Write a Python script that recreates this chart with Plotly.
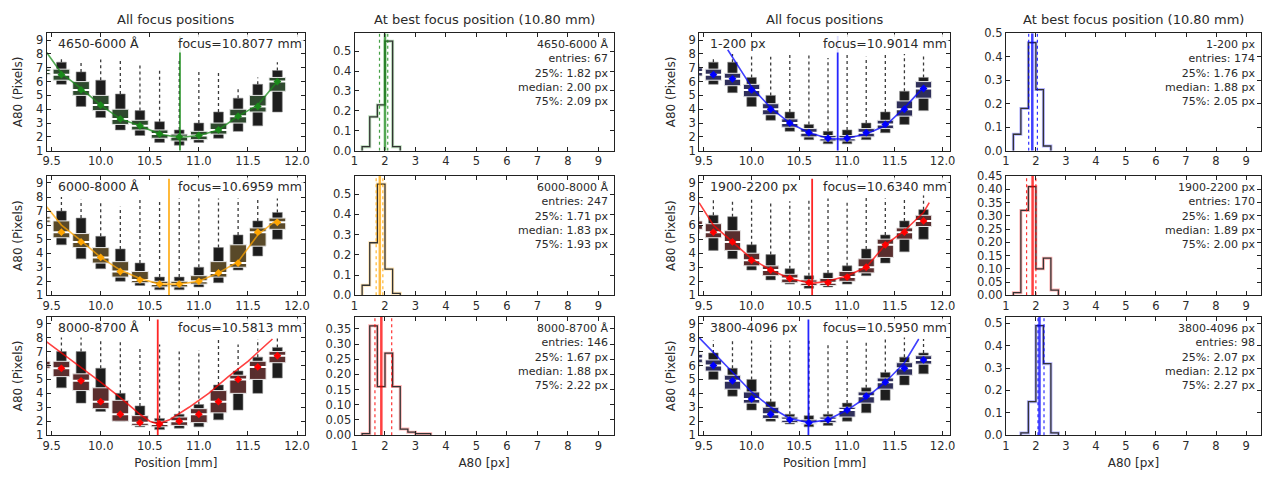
import plotly.graph_objects as go
from plotly.subplots import make_subplots

# ---------------- data ----------------
positions = [9.4, 9.6, 9.8, 10.0, 10.2, 10.4, 10.6, 10.8, 11.0, 11.2, 11.4, 11.6, 11.8]

# Panel A: 4650-6000 Å (green)
A_label, A_focus = "4650-6000 Å", 10.8077
A_lo  = [6.3, 5.8, 4.2, 3.4, 2.5, 2.1, 1.6, 1.4, 1.6, 1.9, 2.4, 2.8, 3.8]
A_q1  = [6.5, 6.1, 5.0, 3.9, 2.9, 2.5, 1.9, 1.7, 1.8, 2.2, 3.0, 3.8, 5.3]
A_med = [6.7, 6.5, 5.4, 4.3, 3.3, 2.8, 2.2, 2.0, 2.1, 2.5, 3.5, 4.2, 6.0]
A_q3  = [6.9, 6.9, 6.0, 5.0, 4.0, 3.2, 2.5, 2.2, 2.4, 3.0, 4.0, 5.0, 6.3]
A_hi  = [7.2, 7.4, 6.7, 6.1, 5.1, 3.9, 3.1, 2.5, 3.0, 3.8, 4.8, 5.8, 6.8]
A_top = [7.2, 7.8, 7.5, 7.6, 7.6, 7.2, 7.0, 7.5, 6.7, 6.8, 5.5, 6.3, 7.4]
A_fit_x = [9.45, 9.6, 9.8, 10.0, 10.2, 10.4, 10.6, 10.8, 11.0, 11.2, 11.4, 11.6, 11.8]
A_fit_y = [8.1, 6.6, 5.5, 4.3, 3.3, 2.8, 2.2, 1.95, 2.1, 2.5, 3.5, 4.3, 6.0]

# Panel B: 6000-8000 Å (orange)
B_label, B_focus = "6000-8000 Å", 10.6959
B_lo  = [6.0, 4.6, 3.6, 2.9, 2.0, 1.7, 1.4, 1.4, 1.6, 1.9, 2.8, 3.8, 5.0]
B_q1  = [6.2, 5.1, 4.4, 3.3, 2.3, 1.9, 1.6, 1.6, 1.8, 2.3, 3.0, 4.5, 5.7]
B_med = [6.4, 5.5, 4.8, 3.7, 2.7, 2.1, 1.8, 1.8, 2.0, 2.6, 3.3, 5.5, 6.2]
B_q3  = [6.6, 6.3, 5.4, 4.4, 3.4, 2.7, 2.0, 2.0, 2.4, 3.4, 4.6, 5.8, 6.5]
B_hi  = [6.9, 7.0, 6.5, 5.2, 4.3, 3.3, 2.3, 2.3, 3.0, 4.4, 5.3, 6.3, 6.9]
B_top = [6.9, 8.0, 7.8, 7.6, 7.3, 8.0, 7.8, 7.9, 7.9, 7.9, 7.9, 7.8, 7.9]
B_fit_x = [9.45, 9.6, 9.8, 10.0, 10.2, 10.4, 10.6, 10.8, 11.0, 11.2, 11.4, 11.6, 11.8]
B_fit_y = [7.3, 6.0, 4.9, 3.7, 2.8, 2.2, 1.8, 1.8, 2.0, 2.6, 3.4, 5.3, 6.4]

# Panel C: 8000-8700 Å (red)
C_label, C_focus = "8000-8700 Å", 10.5813
C_lo  = [5.6, 4.4, 3.3, 2.7, 2.0, 1.6, 1.4, 1.5, 1.6, 2.1, 2.8, 4.0, 5.1]
C_q1  = [5.8, 5.2, 4.2, 2.9, 2.0, 1.7, 1.6, 1.7, 1.9, 2.6, 4.0, 5.0, 6.2]
C_med = [6.0, 5.8, 4.9, 3.4, 2.5, 1.9, 1.8, 2.0, 2.5, 3.4, 5.0, 5.9, 6.7]
C_q3  = [6.3, 6.3, 5.4, 4.4, 3.5, 2.4, 2.0, 2.3, 2.9, 4.2, 5.3, 6.3, 7.0]
C_hi  = [6.6, 7.0, 7.0, 5.8, 4.0, 3.1, 2.2, 2.5, 3.2, 4.6, 5.6, 6.6, 7.3]
C_top = [6.6, 8.0, 8.0, 7.9, 7.7, 7.3, 7.5, 7.0, 7.1, 8.0, 7.5, 7.9, 8.0]
C_fit_x = [9.45, 9.7, 10.0, 10.2, 10.4, 10.5, 10.58, 10.7, 10.9, 11.1, 11.3, 11.5, 11.75]
C_fit_y = [7.7, 6.4, 4.8, 3.7, 2.5, 2.0, 1.8, 2.1, 3.0, 4.0, 5.2, 6.3, 7.9]

# Panel D: 1-200 px (blue)
D_label, D_focus = "1-200 px", 10.9014
D_lo  = [6.0, 5.8, 5.2, 4.2, 3.2, 2.4, 1.8, 1.5, 1.5, 1.8, 2.3, 2.9, 3.9]
D_q1  = [6.4, 6.1, 5.7, 4.9, 3.6, 2.7, 2.0, 1.7, 1.7, 2.0, 2.6, 3.5, 4.8]
D_med = [6.7, 6.5, 6.2, 5.4, 4.0, 3.0, 2.3, 1.9, 1.9, 2.3, 2.9, 4.0, 5.5]
D_q3  = [7.0, 6.9, 6.6, 5.8, 4.4, 3.3, 2.6, 2.1, 2.1, 2.6, 3.2, 4.6, 6.0]
D_hi  = [7.3, 7.4, 7.4, 6.3, 5.0, 3.8, 2.9, 2.4, 2.5, 3.0, 3.8, 5.3, 6.3]
D_top = [7.3, 7.8, 8.0, 8.0, 7.8, 8.0, 7.9, 7.7, 8.0, 7.8, 8.0, 8.0, 8.0]
D_fit_x = [9.75, 10.0, 10.2, 10.4, 10.6, 10.8, 10.9, 11.0, 11.2, 11.4, 11.6, 11.8]
D_fit_y = [8.3, 5.6, 4.1, 3.0, 2.3, 1.9, 1.85, 1.9, 2.2, 2.8, 4.1, 5.6]

# Panel E: 1900-2200 px (red)
E_label, E_focus = "1900-2200 px", 10.6340
E_lo  = [5.4, 4.2, 3.6, 2.8, 2.1, 1.8, 1.5, 1.6, 1.8, 2.4, 3.3, 4.1, 5.0]
E_q1  = [5.7, 5.1, 4.2, 3.1, 2.4, 1.9, 1.7, 1.7, 2.0, 2.6, 3.7, 5.0, 5.9]
E_med = [6.0, 5.5, 4.8, 3.5, 2.8, 2.2, 1.9, 1.9, 2.3, 3.0, 4.6, 5.5, 6.3]
E_q3  = [6.3, 6.1, 5.6, 4.0, 3.1, 2.5, 2.1, 2.2, 2.7, 3.6, 5.0, 5.8, 6.7]
E_hi  = [6.6, 6.7, 6.6, 4.6, 3.9, 2.9, 2.4, 2.6, 3.1, 4.3, 5.3, 6.3, 7.1]
E_top = [6.6, 7.8, 7.8, 7.8, 7.7, 7.7, 7.9, 7.9, 7.6, 8.0, 7.9, 7.9, 8.2]
E_fit_x = [9.45, 9.6, 9.8, 10.0, 10.2, 10.4, 10.63, 10.8, 11.0, 11.2, 11.4, 11.6, 11.8, 11.86]
E_fit_y = [7.6, 6.0, 4.8, 3.6, 2.8, 2.2, 1.85, 2.0, 2.4, 3.0, 4.6, 5.6, 6.9, 7.6]

# Panel F: 3800-4096 px (blue)
F_label, F_focus = "3800-4096 px", 10.5950
F_lo  = [5.9, 5.0, 3.8, 2.8, 2.0, 1.8, 1.6, 1.7, 2.0, 2.6, 3.5, 4.6, 5.4]
F_q1  = [6.2, 5.6, 4.3, 3.3, 2.2, 1.9, 1.8, 1.9, 2.3, 3.3, 4.3, 5.3, 6.1]
F_med = [6.5, 6.0, 4.9, 3.6, 2.5, 2.1, 1.9, 2.1, 2.8, 3.8, 4.8, 5.8, 6.4]
F_q3  = [6.8, 6.4, 5.3, 4.1, 3.0, 2.3, 2.1, 2.3, 3.0, 4.1, 5.1, 6.2, 6.7]
F_hi  = [7.1, 6.9, 5.8, 5.0, 3.4, 2.5, 2.4, 2.5, 3.3, 4.4, 5.5, 6.6, 6.9]
F_top = [7.1, 7.8, 7.8, 7.8, 7.8, 7.8, 7.8, 7.6, 7.8, 7.8, 7.9, 8.0, 7.9]
F_fit_x = [9.45, 9.7, 10.0, 10.2, 10.4, 10.6, 10.8, 11.0, 11.2, 11.4, 11.6, 11.75]
F_fit_y = [8.0, 6.2, 4.1, 3.0, 2.2, 1.9, 2.1, 2.8, 3.7, 4.8, 6.2, 7.9]

# Histograms at best focus (fraction per 0.25 px bin)
A_edges = [1.25, 1.5, 1.75, 2.0, 2.25, 2.5]
A_frac  = [0.02, 0.17, 0.23, 0.55, 0.02]
A_stats = (67, 1.82, 2.00, 2.09)
B_edges = [1.25, 1.5, 1.75, 2.0, 2.25, 2.5]
B_frac  = [0.05, 0.26, 0.55, 0.13, 0.01]
B_stats = (247, 1.71, 1.83, 1.93)
C_edges = [1.25, 1.5, 1.75, 2.0, 2.25, 2.5, 2.75, 3.0, 3.25, 3.5]
C_frac  = [0.005, 0.36, 0.16, 0.27, 0.16, 0.02, 0.01, 0.005, 0.005]
C_stats = (146, 1.67, 1.88, 2.22)
D_edges = [1.25, 1.5, 1.75, 2.0, 2.25, 2.5]
D_frac  = [0.07, 0.18, 0.46, 0.26, 0.02]
D_stats = (174, 1.76, 1.88, 2.05)
E_edges = [1.25, 1.5, 1.75, 2.0, 2.25, 2.5, 2.75]
E_frac  = [0.01, 0.32, 0.41, 0.10, 0.14, 0.02]
E_stats = (170, 1.69, 1.89, 2.00)
F_edges = [1.5, 1.75, 2.0, 2.25, 2.5, 2.75]
F_frac  = [0.01, 0.15, 0.49, 0.32, 0.01]
F_stats = (98, 2.07, 2.12, 2.27)

hist_yrange = {"A": 0.59, "B": 0.59, "C": 0.39, "D": 0.50, "E": 0.45, "F": 0.53}
hist_dtick = {"A": 0.1, "B": 0.1, "C": 0.05, "D": 0.1, "E": 0.05, "F": 0.1}
hist_fmt = {"A": ".1f", "B": ".1f", "C": ".2f", "D": ".1f", "E": ".2f", "F": ".1f"}

colors = {"A": "#1a8a1a", "B": "#FFA500", "C": "#FF0000",
          "D": "#0000FF", "E": "#FF0000", "F": "#0000FF"}
dark = {"A": "#2f4a2f", "B": "#5a4a2a", "C": "#5a2f2f",
        "D": "#2f2f5a", "E": "#5a2f2f", "F": "#2f2f5a"}

# ---------------- layout geometry (pixels) ----------------
W, H = 1274, 481
col_px = [(43, 303), (353, 614), (700, 953), (1009, 1266)]
row_px = [(27, 148), (174, 297), (319, 441)]

fig = make_subplots(rows=3, cols=4)

TXT = "#2a2a2a"
FONT = "DejaVu Sans"

panels = {
    "A": (A_label, A_focus, A_lo, A_q1, A_med, A_q3, A_hi, A_top, A_fit_x, A_fit_y, A_edges, A_frac, A_stats),
    "B": (B_label, B_focus, B_lo, B_q1, B_med, B_q3, B_hi, B_top, B_fit_x, B_fit_y, B_edges, B_frac, B_stats),
    "C": (C_label, C_focus, C_lo, C_q1, C_med, C_q3, C_hi, C_top, C_fit_x, C_fit_y, C_edges, C_frac, C_stats),
    "D": (D_label, D_focus, D_lo, D_q1, D_med, D_q3, D_hi, D_top, D_fit_x, D_fit_y, D_edges, D_frac, D_stats),
    "E": (E_label, E_focus, E_lo, E_q1, E_med, E_q3, E_hi, E_top, E_fit_x, E_fit_y, E_edges, E_frac, E_stats),
    "F": (F_label, F_focus, F_lo, F_q1, F_med, F_q3, F_hi, F_top, F_fit_x, F_fit_y, F_edges, F_frac, F_stats),
}
placement = {"A": (1, 1), "B": (2, 1), "C": (3, 1), "D": (1, 3), "E": (2, 3), "F": (3, 3)}

annotations = []


def axis_name(row, col, kind):
    idx = (row - 1) * 4 + col
    return f"{kind}axis" + ("" if idx == 1 else str(idx))


def axis_ref(row, col, kind):
    idx = (row - 1) * 4 + col
    return kind + ("" if idx == 1 else str(idx))


for key, (label, focus, lo, q1, med, q3, hi, top, fx, fy, edges, frac, stats) in panels.items():
    r, c = placement[key]
    col = colors[key]
    # dotted outlier streaks
    sx, sy = [], []
    for p, h, t in zip(positions, hi, top):
        sx += [p, p, None]
        sy += [h, t, None]
    fig.add_trace(go.Scatter(x=sx, y=sy, mode="lines", line=dict(color="#3a3a3a", width=1.3, dash="dot"),
                             hoverinfo="skip", showlegend=False), row=r, col=c)
    # outer (narrow) letter-value box
    fig.add_trace(go.Bar(x=positions, y=[h - l for h, l in zip(hi, lo)], base=lo, width=0.10,
                         marker=dict(color="#1e1e1e", line=dict(color="#888", width=0.6)),
                         showlegend=False, hoverinfo="skip"), row=r, col=c)
    # inner (wide) box
    fig.add_trace(go.Bar(x=positions, y=[b - a for a, b in zip(q1, q3)], base=q1, width=0.17,
                         marker=dict(color=dark[key], line=dict(color="#e8e8e8", width=1)),
                         showlegend=False, hoverinfo="skip"), row=r, col=c)
    # median line
    fig.add_trace(go.Scatter(x=positions, y=med, mode="markers",
                             marker=dict(symbol="line-ew-open", size=15, color="white",
                                         line=dict(color="white", width=2)),
                             showlegend=False, hoverinfo="skip"), row=r, col=c)
    # fit curve
    fig.add_trace(go.Scatter(x=fx, y=fy, mode="lines", line=dict(color=col, width=1.6), opacity=0.75,
                             showlegend=False, hoverinfo="skip"), row=r, col=c)
    # colored marker at median
    fig.add_trace(go.Scatter(x=positions, y=med, mode="markers",
                             marker=dict(symbol="diamond", size=6, color=col, line=dict(width=0)),
                             showlegend=False, hoverinfo="skip"), row=r, col=c)
    # focus line
    fig.add_trace(go.Scatter(x=[focus, focus], y=[1, 9.3], mode="lines", line=dict(color=col, width=1.8),
                             opacity=0.85, showlegend=False, hoverinfo="skip"), row=r, col=c)

    xr = axis_ref(r, c, "x")
    yr = axis_ref(r, c, "y")
    annotations.append(dict(text=label, x=0.035, y=0.99, xref=xr + " domain", yref=yr + " domain",
                            xanchor="left", yanchor="top", showarrow=False,
                            font=dict(family=FONT, size=12.5, color=TXT)))
    annotations.append(dict(text=f"focus={focus:.4f} mm", x=0.995, y=0.99, xref=xr + " domain",
                            yref=yr + " domain", xanchor="right", yanchor="top", showarrow=False,
                            bgcolor="rgba(255,255,255,0.85)",
                            font=dict(family=FONT, size=12.5, color=TXT)))

    # ---- histogram panel ----
    hc = c + 1
    px, py = [edges[0]], [0]
    for i, f in enumerate(frac):
        px += [edges[i], edges[i + 1]]
        py += [f, f]
    px.append(edges[-1])
    py.append(0)
    fig.add_trace(go.Scatter(x=px, y=py, mode="lines", line=dict(color=col, width=3), opacity=0.3,
                             showlegend=False, hoverinfo="skip"), row=r, col=hc)
    fig.add_trace(go.Scatter(x=px, y=py, mode="lines", line=dict(color="#333", width=1.3),
                             showlegend=False, hoverinfo="skip"), row=r, col=hc)
    n, p25, p50, p75 = stats
    ytop = hist_yrange[key]
    for q in (p25, p75):
        fig.add_trace(go.Scatter(x=[q, q], y=[0, ytop], mode="lines",
                                 line=dict(color=col, width=1.2, dash="dot"), opacity=0.8,
                                 showlegend=False, hoverinfo="skip"), row=r, col=hc)
    fig.add_trace(go.Scatter(x=[p50, p50], y=[0, ytop], mode="lines",
                             line=dict(color=col, width=2.5), opacity=0.75,
                             showlegend=False, hoverinfo="skip"), row=r, col=hc)
    hxr = axis_ref(r, hc, "x")
    hyr = axis_ref(r, hc, "y")
    annotations.append(dict(
        text=f"{label}<br>entries: {n}<br>25%: {p25:.2f} px<br>median: {p50:.2f} px<br>75%: {p75:.2f} px",
        x=0.985, y=0.975, xref=hxr + " domain", yref=hyr + " domain", xanchor="right", yanchor="top",
        align="right", showarrow=False, font=dict(family=FONT, size=11, color=TXT)))

# ---------------- axes ----------------
common = dict(showline=True, linecolor="#222", linewidth=1, mirror="ticks", ticks="inside", ticklen=4,
              tickcolor="#222", showgrid=False, zeroline=False,
              tickfont=dict(family=FONT, size=11.5, color=TXT))
layout_axes = {}
for r in range(1, 4):
    y0, y1 = row_px[r - 1]
    ydom = [1 - y1 / H, 1 - y0 / H]
    for c in range(1, 5):
        x0, x1 = col_px[c - 1]
        xdom = [x0 / W, x1 / W]
        xa = dict(common, domain=xdom)
        ya = dict(common, domain=ydom)
        if c in (1, 3):
            xa.update(range=[9.45, 12.08], tickvals=[9.5, 10.0, 10.5, 11.0, 11.5, 12.0],
                      ticktext=["9.5", "10.0", "10.5", "11.0", "11.5", "12.0"])
            ya.update(range=[1, 9.5], tickvals=list(range(1, 10)),
                      title=dict(text="A80 (Pixels)", standoff=10, font=dict(family=FONT, size=12, color=TXT)))
            if r == 3:
                xa.update(title=dict(text="Position [mm]", standoff=6, font=dict(family=FONT, size=12, color=TXT)))
        else:
            key = {(1, 2): "A", (2, 2): "B", (3, 2): "C", (1, 4): "D", (2, 4): "E", (3, 4): "F"}[(r, c)]
            xa.update(range=[1, 9.5], tickvals=list(range(1, 10)))
            ya.update(range=[0, hist_yrange[key]], dtick=hist_dtick[key], tick0=0, tickformat=hist_fmt[key])
            if r == 3:
                xa.update(title=dict(text="A80 [px]", standoff=6, font=dict(family=FONT, size=12, color=TXT)))
        layout_axes[axis_name(r, c, "x")] = xa
        layout_axes[axis_name(r, c, "y")] = ya

for c, t in zip(range(4), ["All focus positions", "At best focus position (10.80 mm)",
                           "All focus positions", "At best focus position (10.80 mm)"]):
    x0, x1 = col_px[c]
    annotations.append(dict(text=t, x=(x0 + x1) / 2 / W, y=1 - 13 / H, xref="paper", yref="paper",
                            xanchor="center", yanchor="middle", showarrow=False,
                            font=dict(family=FONT, size=13, color=TXT)))

fig.update_layout(**layout_axes)
fig.update_layout(width=W, height=H, margin=dict(l=0, r=0, t=0, b=0), barmode="overlay",
                  plot_bgcolor="white", paper_bgcolor="white", annotations=annotations,
                  font=dict(family=FONT, color=TXT))

fig.write_html("out.html", config={"displayModeBar": False},
               post_script="document.body.style.margin='0';document.body.style.overflow='hidden';")
